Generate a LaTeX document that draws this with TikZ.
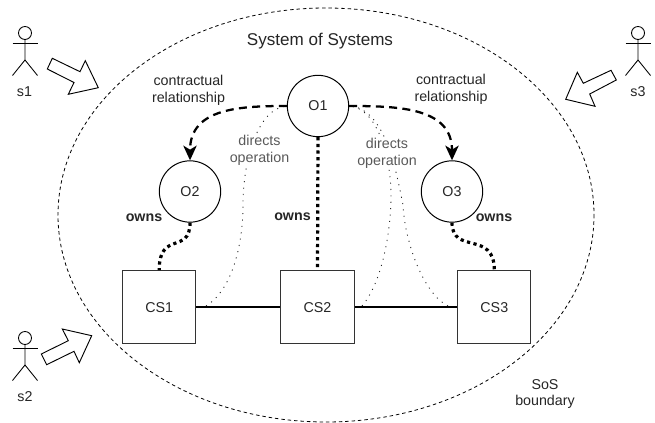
\documentclass[tikz,border=0pt]{standalone}
\usepackage{fontspec}
\setmainfont{Liberation Sans}
\usetikzlibrary{arrows.meta}
\tikzset{
  x=0.75pt,y=-0.75pt,
  every node/.style={font=\fontsize{10.7}{12.7}\selectfont,text=black!85,align=center,inner sep=0pt},
  boundary/.style={draw,line width=0.6pt,dash pattern=on 2.6pt off 2.2pt},
  org/.style={circle,draw,line width=0.75pt,minimum size=46pt,fill=white},
  sys/.style={rectangle,draw=black!80,line width=0.75pt,minimum size=55pt,fill=white},
  contract/.style={draw,line width=1.7pt,dash pattern=on 6pt off 4pt,-{Stealth[length=11pt,width=10pt,inset=3pt]}},
  owning/.style={draw,line width=2.4pt,dash pattern=on 2.4pt off 2.6pt},
  directing/.style={draw,line width=0.65pt,dash pattern=on 0.8pt off 4pt,black!85},
  link/.style={draw,line width=1.5pt},
  stick/.style={draw,line width=0.65pt},
  bigarrow/.style={draw,line width=0.7pt,fill=white,line join=miter},
  greylabel/.style={text=black!65,fill=white,inner ysep=1pt,inner xsep=1pt},
  boldlabel/.style={font=\fontsize{10.7}{12.7}\selectfont\bfseries}
}
\newcommand{\actor}[3]{%
  \coordinate (#3) at (#1,#2);
  \draw[stick] (#1,#2) circle (6.5);
  \draw[stick] (#1-12.5,#2+10) -- (#1+12.5,#2+10);
  \draw[stick] (#1,#2+6.5) -- (#1,#2+27) -- (#1-12.5,#2+42.5);
  \draw[stick] (#1,#2+27) -- (#1+12.5,#2+42.5);
}
\begin{document}
\begin{tikzpicture}
\useasboundingbox (0,0) rectangle (655,423);
\fill[white] (0,0) rectangle (655,423);
% boundary
\draw[boundary] (326,215) ellipse [x radius=268,y radius=207];
% actors
\actor{25}{33}{a1}
\actor{25}{338}{a2}
\actor{638}{33}{a3}
\node (s1) at (24.5,92) {s1};
\node (s2) at (25,397) {s2};
\node (s3) at (638,92) {s3};
% block arrows
\draw[bigarrow] (52.3,58.3) -- (47.3,69) -- (74,82.5) -- (68.3,94.3) -- (98.3,87.7) -- (85.3,60.7) -- (80,71.7) -- cycle;
\draw[bigarrow] (41.3,354) -- (46.7,364.7) -- (74,351.3) -- (79.3,362.7) -- (91.7,335.7) -- (62.3,329) -- (68.3,340.7) -- cycle;
\draw[bigarrow] (611,70.3) -- (616.3,80) -- (589.7,94) -- (595,106.3) -- (565.7,99.3) -- (577.3,72.3) -- (583.3,83.3) -- cycle;
% nodes
\node[org] (O1) at (318,106) {O1};
\node[org] (O2) at (190,191.5) {O2};
\node[org] (O3) at (452,191.5) {O3};
\node[sys] (CS1) at (159.2,307.2) {CS1};
\node[sys] (CS2) at (317.5,307.2) {CS2};
\node[sys] (CS3) at (494.3,307.2) {CS3};
% directs operation curves
\coordinate (d1) at (206,306);
\coordinate (d2) at (362,306);
\coordinate (d3) at (448,306);
\draw[directing] (d1) .. controls (232,290) and (243,245) .. (243,205) .. controls (243,160) and (258,108) .. (O1.west);
\draw[directing] (d2) .. controls (380,285) and (390,240) .. (391,200) .. controls (392,160) and (378,108) .. (O1.east);
\draw[directing] (d3) .. controls (425,295) and (405,245) .. (403,205) .. controls (396,170) and (385,108) .. (O1.east);
% contract
\draw[contract] (O1.west) .. controls (240,106) and (190,108) .. (O2.north);
\draw[contract] (O1.east) .. controls (400,106) and (452,108) .. (O3.north);
% ownership
\draw[owning] (O2.south) .. controls (190,255) and (159.2,230) .. (CS1.north);
\draw[owning] (O1.south) -- (CS2.north);
\draw[owning] (O3.south) .. controls (452,255) and (494.3,230) .. (CS3.north);
% links
\draw[link] (CS1.east |- 0,306.5) -- (CS2.west |- 0,306.5);
\draw[link] (CS2.east |- 0,306.5) -- (CS3.west |- 0,306.5);
% labels
\node[font=\fontsize{12.8}{15}\selectfont] (title) at (320,41) {System of Systems};
\node (c1) at (188.5,90) {contractual\\relationship};
\node (c2) at (451,89) {contractual\\relationship};
\node[greylabel] (o1) at (259.5,150) {directs\\operation};
\node[greylabel] (o2) at (387,153) {directs\\operation};
\node[boldlabel,fill=white] (w2) at (144,218) {owns};
\node[boldlabel,fill=white] (w1) at (292.5,217) {owns};
\node[boldlabel,fill=white] (w3) at (494,218) {owns};
\node (b) at (545,394) {SoS\\boundary};
\end{tikzpicture}
\end{document}
